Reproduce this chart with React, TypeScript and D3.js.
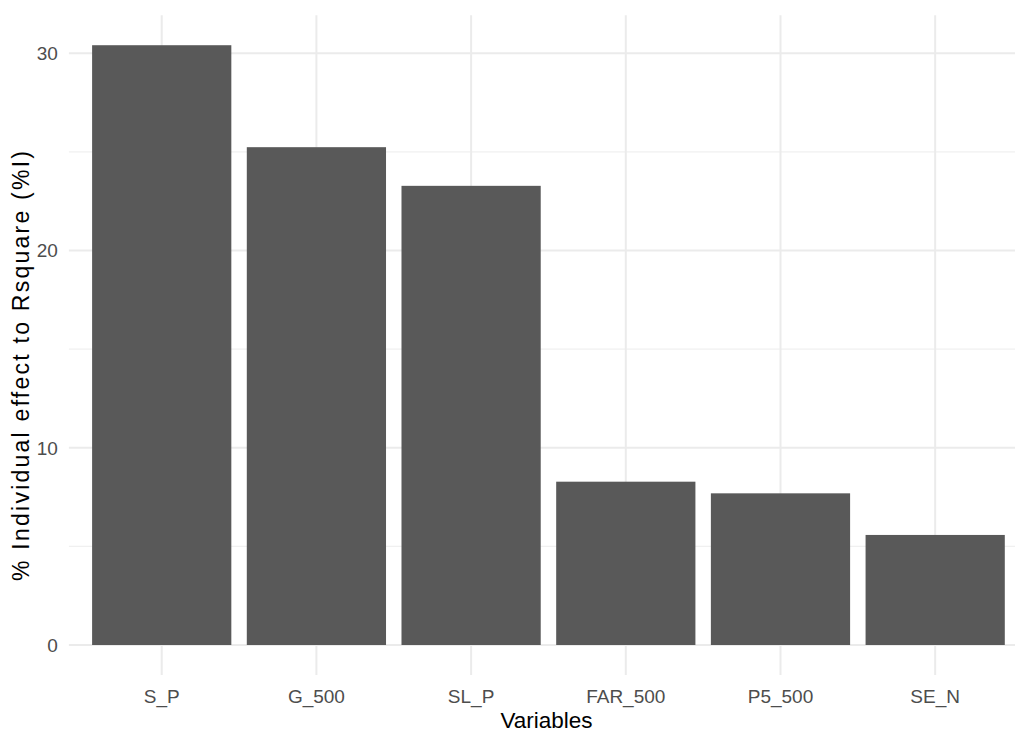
import React from "react";
import * as d3 from "d3";

const categories = ["S_P", "G_500", "SL_P", "FAR_500", "P5_500", "SE_N"];
const values = [30.41, 25.24, 23.28, 8.28, 7.69, 5.58];
const yMajorTicks = [0, 10, 20, 30];
const yMinorTicks = [5, 15, 25];
const xTitle = "Variables";
const yTitle = "% Individual effect to Rsquare (%I)";

const W = 1015;
const H = 731;
const FONT = "'Liberation Sans', Arial, sans-serif";

export default function App() {
  const yMax = d3.max(values) as number;
  const y = d3.scaleLinear().domain([0, 30]).range([645, 53.3]);
  const panelTop = y(yMax * 1.05);
  const panelBottom = y(-yMax * 0.05);
  const panelLeft = 68.9;
  const panelRight = 1028;
  const x = d3
    .scaleBand<string>()
    .domain(categories)
    .range([panelLeft, panelRight])
    .paddingInner(0.1)
    .paddingOuter(0.15);

  return (
    <svg
      width={W}
      height={H}
      style={{ position: "absolute", left: 0, top: 0, background: "#fff" }}
    >
      <rect x={0} y={0} width={W} height={H} fill="#ffffff" />
      {yMinorTicks.map((t) => (
        <line
          key={"mn" + t}
          x1={panelLeft}
          x2={panelRight}
          y1={y(t)}
          y2={y(t)}
          stroke="#f0f0f0"
          strokeWidth={1.2}
        />
      ))}
      {yMajorTicks.map((t) => (
        <line
          key={"mj" + t}
          x1={panelLeft}
          x2={panelRight}
          y1={y(t)}
          y2={y(t)}
          stroke="#ebebeb"
          strokeWidth={2}
        />
      ))}
      {categories.map((c) => {
        const cx = (x(c) as number) + x.bandwidth() / 2;
        return (
          <line
            key={"vg" + c}
            x1={cx}
            x2={cx}
            y1={panelTop}
            y2={panelBottom}
            stroke="#ebebeb"
            strokeWidth={2}
          />
        );
      })}
      {categories.map((c, i) => (
        <rect
          key={"b" + c}
          x={x(c) as number}
          y={y(values[i])}
          width={x.bandwidth()}
          height={y(0) - y(values[i])}
          fill="#595959"
        />
      ))}
      {yMajorTicks.map((t) => (
        <text
          key={"yl" + t}
          x={panelLeft - 11}
          y={y(t)}
          dy="0.36em"
          textAnchor="end"
          fontFamily={FONT}
          fontSize={19}
          fill="#4d4d4d"
        >
          {t}
        </text>
      ))}
      {categories.map((c) => (
        <text
          key={"xl" + c}
          x={(x(c) as number) + x.bandwidth() / 2}
          y={702.5}
          textAnchor="middle"
          fontFamily={FONT}
          fontSize={19}
          fill="#4d4d4d"
        >
          {c}
        </text>
      ))}
      <text
        x={546.5}
        y={727.5}
        textAnchor="middle"
        fontFamily={FONT}
        fontSize={22.5}
        fill="#000"
      >
        {xTitle}
      </text>
      <text
        transform={`translate(28.5, 366) rotate(-90)`}
        textAnchor="middle"
        fontFamily={FONT}
        fontSize={23}
        fill="#000"
        textLength={430}
        lengthAdjust="spacing"
      >
        {yTitle}
      </text>
    </svg>
  );
}
